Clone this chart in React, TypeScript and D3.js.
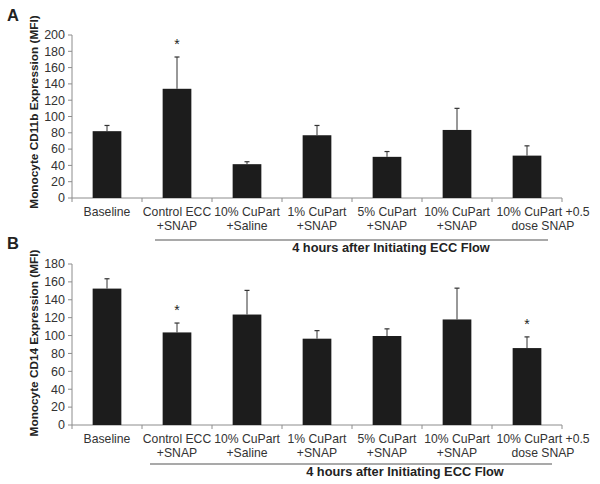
import React from "react";
import * as d3 from "d3";

const categories = [
  ["Baseline"],
  ["Control ECC", "+SNAP"],
  ["10% CuPart", "+Saline"],
  ["1% CuPart", "+SNAP"],
  ["5% CuPart", "+SNAP"],
  ["10% CuPart", "+SNAP"],
  ["10% CuPart +0.5", "dose SNAP"],
];
const cd11bMean = [82, 134, 41.5, 77, 50.5, 83.5, 52];
const cd11bErr = [7, 39, 3, 12, 6.5, 26.5, 12];
const cd11bStar = [false, true, false, false, false, false, false];
const cd14Mean = [152.5, 103.5, 123.5, 96.5, 99.5, 118, 86];
const cd14Err = [11, 10.5, 27, 9, 8, 35, 12.5];
const cd14Star = [false, true, false, false, false, false, true];
const ticksA = [0, 20, 40, 60, 80, 100, 120, 140, 160, 180, 200];
const ticksB = [0, 20, 40, 60, 80, 100, 120, 140, 160, 180];

const FONT = "Liberation Sans, Arial, sans-serif";

type PanelProps = {
  label: string;
  yTitle: string;
  means: number[];
  errs: number[];
  stars: boolean[];
  ticks: number[];
  yMax: number;
  y0: number;
  yTop: number;
  labelY: number;
  lineY: number;
  lineX0: number;
  lineX1: number;
  noteX: number;
  noteY: number;
  titleCY: number;
};

function Panel(p: PanelProps) {
  const keys = categories.map((_, i) => String(i));
  const x = d3.scaleBand().domain(keys).range([72, 562]).paddingInner(0.59).paddingOuter(0.295);
  const step = x.step();
  const y = d3.scaleLinear().domain([0, p.yMax]).range([p.y0, p.yTop]);
  const axisColor = "#8c8c8c";
  // last label in the original overflows to the right of its slot
  const labelShift = (i: number) => (i === categories.length - 1 ? 16 : 0);
  return (
    <g>
      <text x={7} y={p.labelY} fontFamily={FONT} fontWeight="bold" fontSize={16.5} fill="#222">
        {p.label}
      </text>
      <text
        transform={`translate(38,${p.titleCY}) rotate(-90)`}
        textAnchor="middle"
        fontFamily={FONT}
        fontWeight="bold"
        fontSize={11.8}
        fill="#222"
      >
        {p.yTitle}
      </text>
      <line x1={72} x2={72} y1={y(p.yMax)} y2={y(0)} stroke={axisColor} />
      {p.ticks.map((t) => (
        <g key={t}>
          <line x1={68} x2={72} y1={y(t)} y2={y(t)} stroke={axisColor} />
          <text
            x={65}
            y={y(t)}
            dy="0.35em"
            textAnchor="end"
            fontFamily={FONT}
            fontSize={12.5}
            fill="#333"
          >
            {t}
          </text>
        </g>
      ))}
      <line x1={72} x2={72 + step * categories.length} y1={y(0)} y2={y(0)} stroke={axisColor} />
      {d3.range(categories.length + 1).map((i) => (
        <line
          key={i}
          x1={72 + i * step}
          x2={72 + i * step}
          y1={y(0)}
          y2={y(0) + 4}
          stroke={axisColor}
        />
      ))}
      {keys.map((k, i) => {
        const bx = x(k)!;
        const bw = x.bandwidth();
        const cx = bx + bw / 2;
        const top = y(p.means[i]);
        const errTop = y(p.means[i] + p.errs[i]);
        return (
          <g key={k}>
            <rect x={bx} y={top} width={bw} height={y(0) - top} fill="#1c1c1c" />
            <line x1={cx} x2={cx} y1={top} y2={errTop} stroke="#333" strokeWidth={1} />
            <line x1={cx - 2.5} x2={cx + 2.5} y1={errTop} y2={errTop} stroke="#333" strokeWidth={1.2} />
            {p.stars[i] && (
              <text
                x={cx}
                y={errTop - 8}
                textAnchor="middle"
                fontFamily={FONT}
                fontSize={14}
                fill="#222"
              >
                *
              </text>
            )}
            {categories[i].map((line, j) => (
              <text
                key={j}
                x={72 + (i + 0.5) * step + labelShift(i)}
                y={y(0) + 18 + j * 14}
                textAnchor="middle"
                fontFamily={FONT}
                fontSize={12.2}
                fill="#333"
              >
                {line}
              </text>
            ))}
          </g>
        );
      })}
      <line x1={p.lineX0} x2={p.lineX1} y1={p.lineY} y2={p.lineY} stroke="#555" strokeWidth={1.2} />
      <text
        x={p.noteX}
        y={p.noteY}
        textAnchor="middle"
        fontFamily={FONT}
        fontWeight="bold"
        fontSize={12.8}
        fill="#222"
      >
        4 hours after Initiating ECC Flow
      </text>
    </g>
  );
}

export default function App() {
  return (
    <svg
      width={600}
      height={484}
      style={{ position: "absolute", left: 0, top: 0, background: "#fff" }}
    >
      <rect width={600} height={484} fill="#fff" />
      <Panel
        label="A"
        yTitle="Monocyte CD11b Expression (MFI)"
        means={cd11bMean}
        errs={cd11bErr}
        stars={cd11bStar}
        ticks={ticksA}
        yMax={200}
        y0={198}
        yTop={35}
        labelY={21}
        lineY={240}
        lineX0={155}
        lineX1={548}
        noteX={391}
        noteY={252}
        titleCY={112}
      />
      <Panel
        label="B"
        yTitle="Monocyte CD14 Expression (MFI)"
        means={cd14Mean}
        errs={cd14Err}
        stars={cd14Star}
        ticks={ticksB}
        yMax={180}
        y0={425}
        yTop={264}
        labelY={249}
        lineY={464}
        lineX0={150}
        lineX1={552}
        noteX={405}
        noteY={476}
        titleCY={343}
      />
    </svg>
  );
}
